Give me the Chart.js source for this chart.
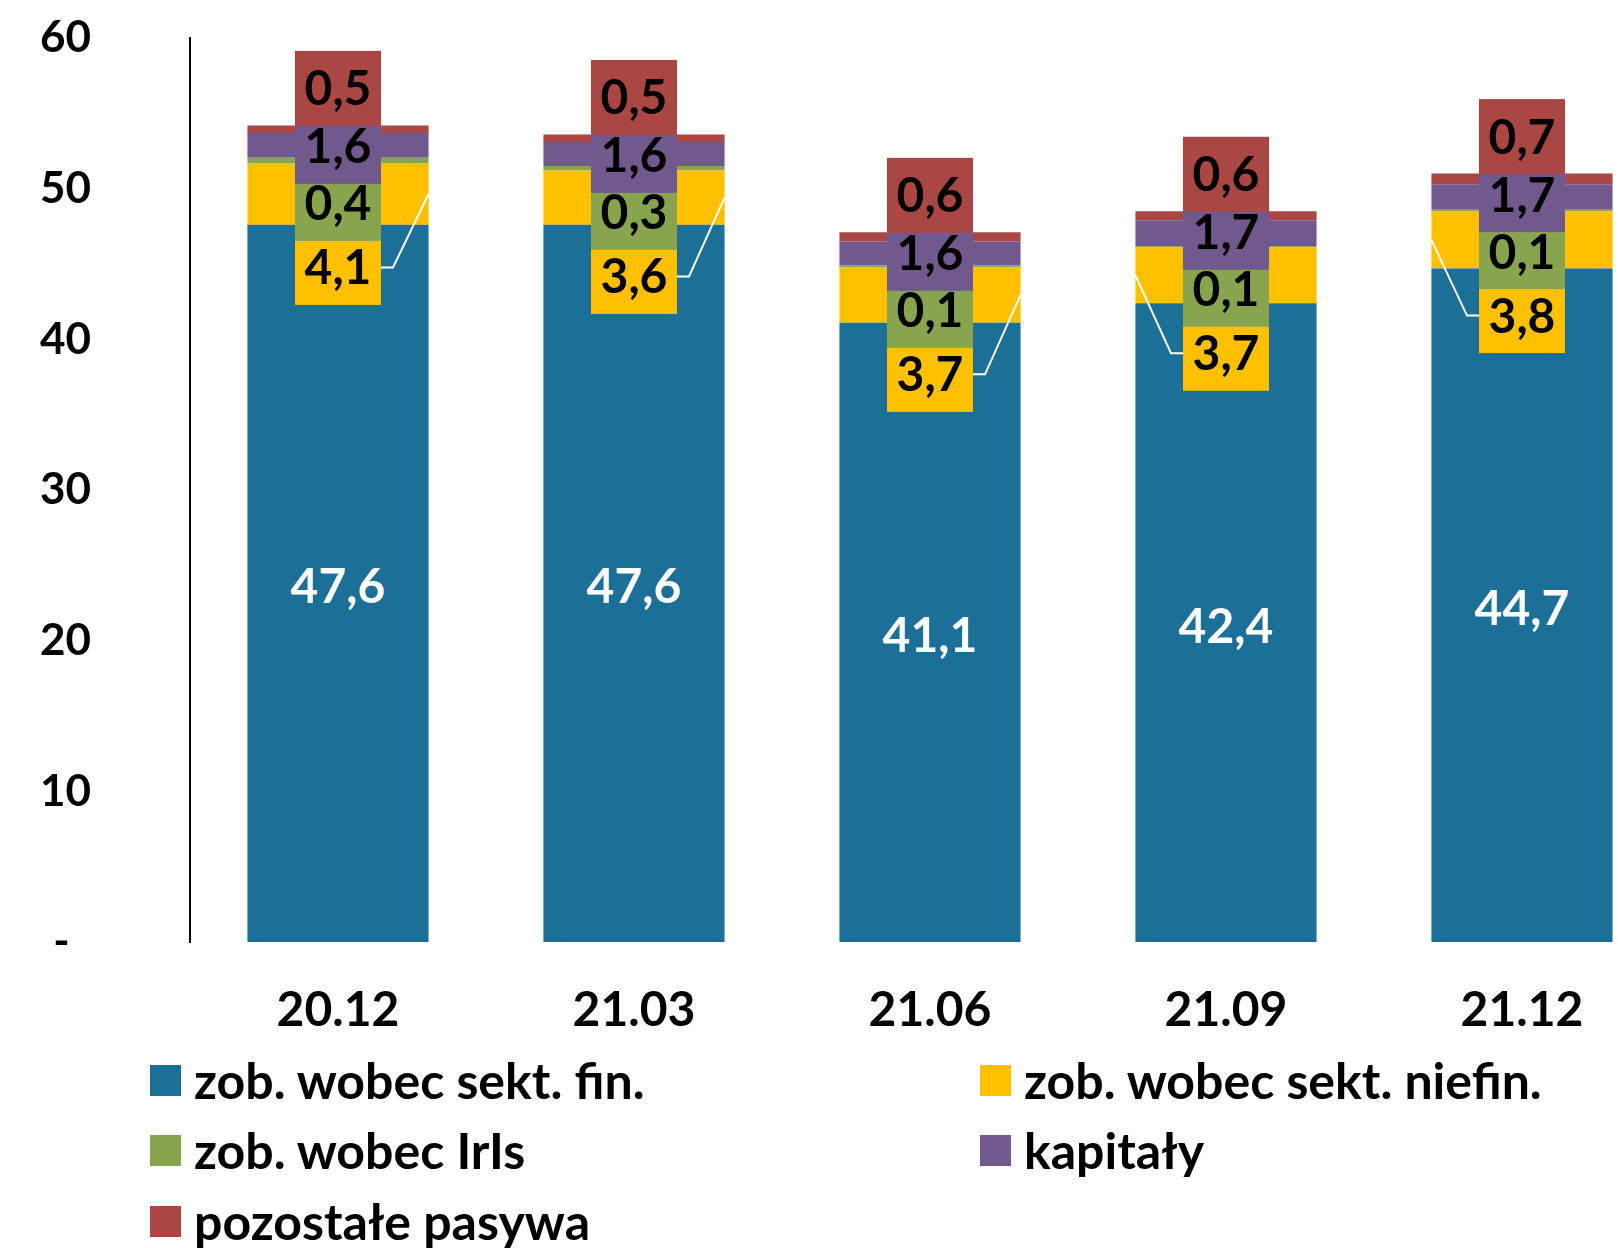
<html>
<head>
    <script src="https://cdn.jsdelivr.net/npm/chart.js"></script>
    <style>
        body { margin: 0; overflow: hidden; background: #fff; }
        #wrap { position: relative; width: 1618px; height: 1248px; overflow: hidden; }
        .leg { position: absolute; font: bold 50px Lato; color: #000; display: flex; align-items: center; white-space: nowrap; height: 60px; }
        .leg span { display: inline-block; width: 31px; height: 31px; margin-right: 13px; }
    </style>
</head>
<body>
    <div id="wrap">
        <canvas id="myChart" width="1672" height="1248"></canvas>
        <div id="legend"></div>
    </div>
    <script>
        // dane
        const categories = ['20.12', '21.03', '21.06', '21.09', '21.12'];
        const finValues = [47.6, 47.6, 41.1, 42.4, 44.7];
        const niefinValues = [4.1, 3.6, 3.7, 3.7, 3.8];
        const irlsValues = [0.4, 0.3, 0.1, 0.1, 0.1];
        const kapitalyValues = [1.6, 1.6, 1.6, 1.7, 1.7];
        const pozostaleValues = [0.5, 0.5, 0.6, 0.6, 0.7];
        const yTicks = [0, 10, 20, 30, 40, 50, 60];

        const seriesNames = ['zob. wobec sekt. fin.', 'zob. wobec sekt. niefin.', 'zob. wobec IrIs', 'kapitały', 'pozostałe pasywa'];
        const colors = ['#1c6f97', '#ffc000', '#88a44e', '#72598d', '#aa4745'];
        const values = [finValues, niefinValues, irlsValues, kapitalyValues, pozostaleValues];

        const fmt = v => v.toFixed(1).replace('.', ',');

        // etykiety w ramkach (jak w excelu)
        const boxLabels = {
            id: 'boxLabels',
            afterDatasetsDraw(chart) {
                const ctx = chart.ctx;
                const metas = values.map((v, i) => chart.getDatasetMeta(i));
                ctx.save();
                ctx.font = 'bold 48px Lato';
                ctx.textAlign = 'center';
                ctx.textBaseline = 'alphabetic';
                categories.forEach((c, i) => {
                    const blue = metas[0].data[i];
                    const yel = metas[1].data[i];
                    const top = metas[4].data[i].y;
                    const x = blue.x;
                    const half = blue.width / 2;

                    ctx.fillStyle = '#fff';
                    ctx.fillText(fmt(finValues[i]), x, (blue.y + blue.base) / 2 + 20);

                    // linia odniesienia do żółtego segmentu
                    const yc = top + 142;
                    const right = i < 3;
                    const bx = right ? x + 43 : x - 43;
                    const kx = right ? bx + 12 : bx - 12;
                    const ex = right ? x + half : x - half;
                    const ey = (yel.y + yel.base) / 2;
                    ctx.strokeStyle = '#fff';
                    ctx.lineWidth = 2;
                    ctx.beginPath();
                    ctx.moveTo(bx, yc);
                    ctx.lineTo(kx, yc);
                    ctx.lineTo(ex, ey);
                    ctx.stroke();

                    const boxes = [[1, top + 142], [2, top + 78], [3, top + 21], [4, top - 37]];
                    boxes.forEach(([d, cy]) => {
                        ctx.fillStyle = colors[d];
                        ctx.fillRect(x - 43, cy - 37.5, 86, 75);
                        ctx.fillStyle = '#000';
                        ctx.fillText(fmt(values[d][i]), x, cy + 17);
                    });
                });
                ctx.restore();
            }
        };

        new Chart(document.getElementById('myChart'), {
            type: 'bar',
            data: {
                labels: categories,
                datasets: values.map((v, i) => ({
                    label: seriesNames[i],
                    data: v,
                    backgroundColor: colors[i],
                    borderWidth: 0,
                    categoryPercentage: 1,
                    barPercentage: 0.612
                }))
            },
            options: {
                responsive: false,
                animation: false,
                layout: { padding: { top: 38, right: 2, bottom: 0, left: 0 } },
                plugins: { legend: { display: false }, tooltip: { enabled: false } },
                scales: {
                    x: {
                        stacked: true,
                        grid: { display: false, drawTicks: false },
                        border: { display: false },
                        ticks: { color: '#000', font: { family: 'Lato', weight: 'bold', size: 48 }, padding: 40 },
                        afterFit: s => { s.height = 306; }
                    },
                    y: {
                        stacked: true,
                        min: 0,
                        max: 60,
                        afterBuildTicks: s => { s.ticks = yTicks.map(v => ({ value: v })); },
                        grid: { display: false, drawTicks: false },
                        border: { display: true, color: '#000', width: 2 },
                        ticks: {
                            color: '#000',
                            font: { family: 'Lato', weight: 'bold', size: 44 },
                            padding: 99,
                            callback: v => v === 0 ? '-  ' : v
                        },
                        afterFit: s => { s.width = 190; s.paddingTop = 20; s.paddingBottom = 20; }
                    }
                }
            },
            plugins: [boxLabels]
        });

        // legenda w dwóch kolumnach
        const legPos = [[150, 1080], [980, 1080], [150, 1150], [980, 1150], [150, 1221]];
        const legend = document.getElementById('legend');
        seriesNames.forEach((name, i) => {
            const el = document.createElement('div');
            el.className = 'leg';
            el.style.left = legPos[i][0] + 'px';
            el.style.top = (legPos[i][1] - 30) + 'px';
            el.innerHTML = '<span style="background:' + colors[i] + '"></span>' + name;
            legend.appendChild(el);
        });
    </script>
</body>
</html>
